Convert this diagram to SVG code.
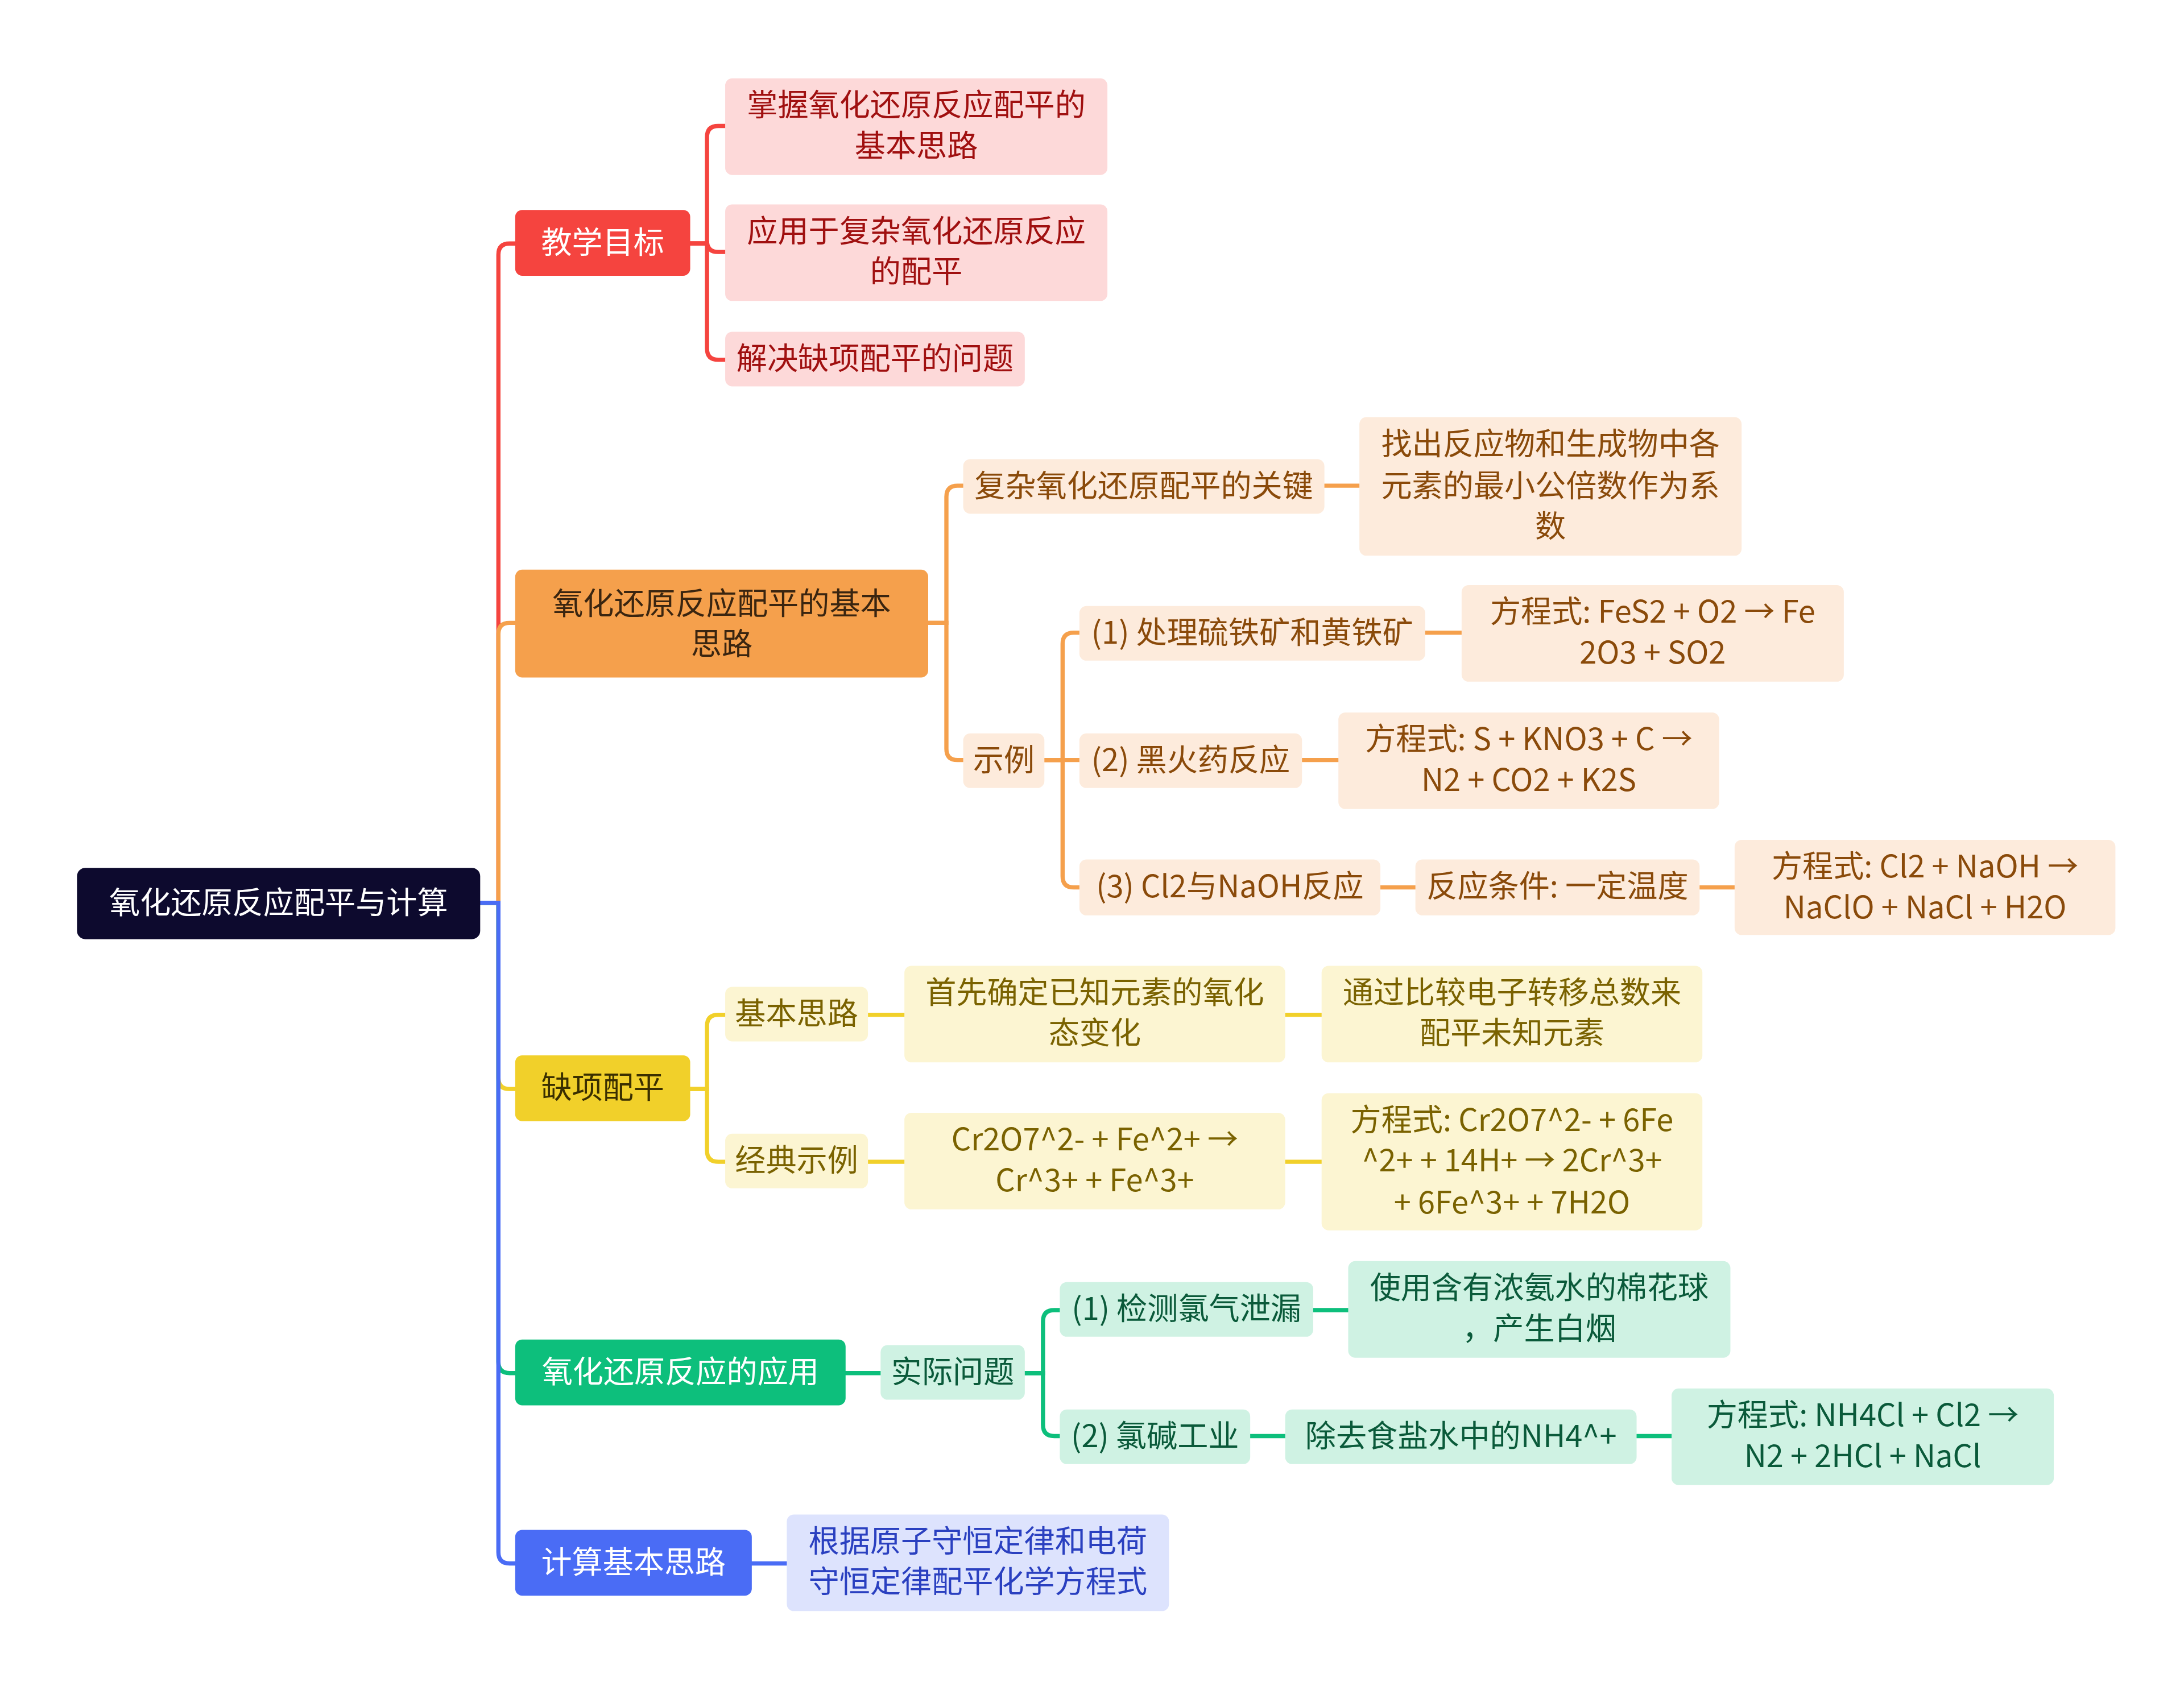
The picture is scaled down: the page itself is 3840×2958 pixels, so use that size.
<svg xmlns="http://www.w3.org/2000/svg" width="3840" height="2958" viewBox="0 0 3840 2958">
<style>
text{font-family:"Noto Sans CJK SC","Liberation Sans",sans-serif;font-size:22px;text-anchor:middle}
.c path{fill:none;stroke-width:3;stroke-linecap:round}
.r{stroke:#f5443f}.o{stroke:#f5a04c}.y{stroke:#f1d02a}.g{stroke:#0dbf7c}.b{stroke:#4a6cf5}
.nr rect{fill:#fdd9d9}.nr text{fill:#a01010}
.no rect{fill:#fdebdc}.no text{fill:#8a4a0a}
.ny rect{fill:#fcf5d2}.ny text{fill:#7a6200}
.ng rect{fill:#cff2e3}.ng text{fill:#0a5a3a}
.nb rect{fill:#dde3fd}.nb text{fill:#2a40c0}
</style>
<rect width="3840" height="2958" fill="#fff"/>
<g transform="scale(2.461538)">
<g id="connectors" class="c">
<path class="r" d="M343 645 H356 V182 Q356 174 364 174 H368"/>
<path class="o" d="M343 645 H356 V453 Q356 445 364 445 H368"/>
<path class="y" d="M343 645 H356 V770 Q356 778 364 778 H368"/>
<path class="g" d="M343 645 H356 V973 Q356 981 364 981 H368"/>
<path class="b" d="M343 645 H356 V1109 Q356 1117 364 1117 H368"/>
<path class="r" d="M493 174 H505 V98 Q505 90 513 90 H518"/>
<path class="r" d="M493 174 H505 V172 Q505 180 513 180 H518"/>
<path class="r" d="M493 174 H505 V249 Q505 257 513 257 H518"/>
<path class="o" d="M663 445 H676 V355 Q676 347 684 347 H688"/>
<path class="o" d="M663 445 H676 V535 Q676 543 684 543 H688"/>
<path class="o" d="M946 347 H971"/>
<path class="o" d="M746 543 H759 V460 Q759 452 767 452 H771"/>
<path class="o" d="M746 543 H771"/>
<path class="o" d="M746 543 H759 V626 Q759 634 767 634 H771"/>
<path class="o" d="M1018 452 H1044"/>
<path class="o" d="M930 543 H956"/>
<path class="o" d="M986 634 H1011"/>
<path class="o" d="M1214 634 H1239"/>
<path class="y" d="M493 778 H505 V733 Q505 725 513 725 H518"/>
<path class="y" d="M493 778 H505 V822 Q505 830 513 830 H518"/>
<path class="y" d="M620 725 H646"/>
<path class="y" d="M918 725 H944"/>
<path class="y" d="M620 830 H646"/>
<path class="y" d="M918 830 H944"/>
<path class="g" d="M604 981 H629"/>
<path class="g" d="M732 981 H745 V944 Q745 936 753 936 H757"/>
<path class="g" d="M732 981 H745 V1018 Q745 1026 753 1026 H757"/>
<path class="g" d="M938 936 H963"/>
<path class="g" d="M893 1026 H918"/>
<path class="g" d="M1169 1026 H1194"/>
<path class="b" d="M537 1117 H562"/>
</g>
<g id="root"><rect x="55" y="620" width="288" height="51" rx="6" fill="#0d0a2e"/><text x="199" y="653" fill="#fff">氧化还原反应配平与计算</text></g>
<g id="n1"><rect x="368" y="150" width="125" height="47" rx="5" fill="#f5443f"/><text x="430.5" y="181" fill="#fff">教学目标</text></g>
<g id="n2"><rect x="368" y="407" width="295" height="77" rx="5" fill="#f5a04c"/><text x="515.5" y="439" fill="#3a2510">氧化还原反应配平的基本</text><text x="515.5" y="468" fill="#3a2510">思路</text></g>
<g id="n3"><rect x="368" y="754" width="125" height="47" rx="5" fill="#f1d02a"/><text x="430.5" y="785" fill="#3a2f00">缺项配平</text></g>
<g id="n4"><rect x="368" y="957" width="236" height="47" rx="5" fill="#0dbf7c"/><text x="486" y="988" fill="#fff">氧化还原反应的应用</text></g>
<g id="n5"><rect x="368" y="1093" width="169" height="47" rx="5" fill="#4a6cf5"/><text x="452.5" y="1124" fill="#fff">计算基本思路</text></g>
<g id="r1" class="nr"><rect x="518" y="56" width="273" height="69" rx="5"/><text x="654.5" y="83">掌握氧化还原反应配平的</text><text x="654.5" y="112">基本思路</text></g>
<g id="r2" class="nr"><rect x="518" y="146" width="273" height="69" rx="5"/><text x="654.5" y="173">应用于复杂氧化还原反应</text><text x="654.5" y="202">的配平</text></g>
<g id="r3" class="nr"><rect x="518" y="237" width="214" height="39" rx="5"/><text x="625" y="264">解决缺项配平的问题</text></g>
<g id="o1" class="no"><rect x="688" y="328" width="258" height="39" rx="5"/><text x="817" y="355">复杂氧化还原配平的关键</text></g>
<g id="o2" class="no"><rect x="971" y="298" width="273" height="99" rx="5"/><text x="1107.5" y="325">找出反应物和生成物中各</text><text x="1107.5" y="355">元素的最小公倍数作为系</text><text x="1107.5" y="384">数</text></g>
<g id="o3" class="no"><rect x="688" y="524" width="58" height="39" rx="5"/><text x="717" y="551">示例</text></g>
<g id="o4" class="no"><rect x="771" y="433" width="247" height="39" rx="5"/><text x="894.5" y="460">(1) 处理硫铁矿和黄铁矿</text></g>
<g id="o5" class="no"><rect x="1044" y="418" width="273" height="69" rx="5"/><text x="1180.5" y="445">方程式: FeS2 + O2 → Fe</text><text x="1180.5" y="474">2O3 + SO2</text></g>
<g id="o6" class="no"><rect x="771" y="524" width="159" height="39" rx="5"/><text x="850.5" y="551">(2) 黑火药反应</text></g>
<g id="o7" class="no"><rect x="956" y="509" width="272" height="69" rx="5"/><text x="1092" y="536">方程式: S + KNO3 + C →</text><text x="1092" y="565">N2 + CO2 + K2S</text></g>
<g id="o8" class="no"><rect x="771" y="614" width="215" height="40" rx="5"/><text x="878.5" y="641">(3) Cl2与NaOH反应</text></g>
<g id="o9" class="no"><rect x="1011" y="614" width="203" height="40" rx="5"/><text x="1112.5" y="641">反应条件: 一定温度</text></g>
<g id="o10" class="no"><rect x="1239" y="600" width="272" height="68" rx="5"/><text x="1375" y="627">方程式: Cl2 + NaOH →</text><text x="1375" y="656">NaClO + NaCl + H2O</text></g>
<g id="y1" class="ny"><rect x="518" y="705" width="102" height="39" rx="5"/><text x="569" y="732">基本思路</text></g>
<g id="y2" class="ny"><rect x="646" y="690" width="272" height="69" rx="5"/><text x="782" y="717">首先确定已知元素的氧化</text><text x="782" y="746">态变化</text></g>
<g id="y3" class="ny"><rect x="944" y="690" width="272" height="69" rx="5"/><text x="1080" y="717">通过比较电子转移总数来</text><text x="1080" y="746">配平未知元素</text></g>
<g id="y4" class="ny"><rect x="518" y="810" width="102" height="39" rx="5"/><text x="569" y="837">经典示例</text></g>
<g id="y5" class="ny"><rect x="646" y="795" width="272" height="69" rx="5"/><text x="782" y="822">Cr2O7^2- + Fe^2+ →</text><text x="782" y="851">Cr^3+ + Fe^3+</text></g>
<g id="y6" class="ny"><rect x="944" y="781" width="272" height="98" rx="5"/><text x="1080" y="808">方程式: Cr2O7^2- + 6Fe</text><text x="1080" y="837">^2+ + 14H+ → 2Cr^3+</text><text x="1080" y="867">+ 6Fe^3+ + 7H2O</text></g>
<g id="g1" class="ng"><rect x="629" y="961" width="103" height="39" rx="5"/><text x="680.5" y="988">实际问题</text></g>
<g id="g2" class="ng"><rect x="757" y="916" width="181" height="39" rx="5"/><text x="847.5" y="943">(1) 检测氯气泄漏</text></g>
<g id="g3" class="ng"><rect x="963" y="901" width="273" height="69" rx="5"/><text x="1099.5" y="928">使用含有浓氨水的棉花球</text><text x="1099.5" y="957">，产生白烟</text></g>
<g id="g4" class="ng"><rect x="757" y="1007" width="136" height="39" rx="5"/><text x="825" y="1034">(2) 氯碱工业</text></g>
<g id="g5" class="ng"><rect x="918" y="1007" width="251" height="39" rx="5"/><text x="1043.5" y="1034">除去食盐水中的NH4^+</text></g>
<g id="g6" class="ng"><rect x="1194" y="992" width="273" height="69" rx="5"/><text x="1330.5" y="1019">方程式: NH4Cl + Cl2 →</text><text x="1330.5" y="1048">N2 + 2HCl + NaCl</text></g>
<g id="b1" class="nb"><rect x="562" y="1082" width="273" height="69" rx="5"/><text x="698.5" y="1109">根据原子守恒定律和电荷</text><text x="698.5" y="1138">守恒定律配平化学方程式</text></g>
</g>
</svg>
